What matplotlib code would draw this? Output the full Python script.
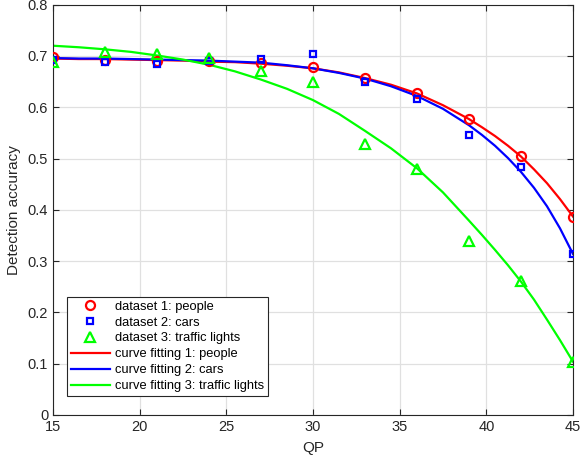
import matplotlib
matplotlib.use("Agg")
import matplotlib.pyplot as plt

plt.rcParams['font.family'] = ['Liberation Sans', 'DejaVu Sans']

# measured points
qp = [15, 18, 21, 24, 27, 30, 33, 36, 39, 42, 45]
people = [0.698, 0.692, 0.690, 0.690, 0.686, 0.678, 0.658, 0.627, 0.577, 0.505, 0.387]
cars = [0.693, 0.689, 0.684, 0.690, 0.695, 0.704, 0.649, 0.617, 0.545, 0.483, 0.314]
lights = [0.688, 0.707, 0.703, 0.697, 0.671, 0.649, 0.528, 0.479, 0.339, 0.262, 0.104]

# fitted curves
qp_fit = [15, 16.5, 18, 19.5, 21, 22.5, 24, 25.5, 27, 28.5, 30, 31.5, 33,
          34.5, 36, 37.5, 39, 39.75, 40.5, 41.25, 42, 42.75, 43.5, 44.25, 45]
people_fit = [0.695, 0.694, 0.694, 0.693, 0.692, 0.691, 0.689, 0.688, 0.685,
              0.681, 0.676, 0.668, 0.657, 0.644, 0.627, 0.604, 0.577, 0.561,
              0.544, 0.525, 0.504, 0.479, 0.452, 0.421, 0.387]
cars_fit = [0.696, 0.695, 0.695, 0.694, 0.693, 0.692, 0.691, 0.689, 0.687,
            0.682, 0.676, 0.667, 0.656, 0.641, 0.622, 0.597, 0.565, 0.546,
            0.525, 0.501, 0.474, 0.443, 0.407, 0.364, 0.314]
lights_fit = [0.720, 0.717, 0.713, 0.708, 0.701, 0.693, 0.683, 0.670, 0.654,
              0.636, 0.614, 0.587, 0.554, 0.520, 0.481, 0.434, 0.379, 0.351,
              0.322, 0.292, 0.260, 0.225, 0.186, 0.146, 0.104]

xticks = [15, 20, 25, 30, 35, 40, 45]
yticks = [0, 0.1, 0.2, 0.3, 0.4, 0.5, 0.6, 0.7, 0.8]

fig = plt.figure(figsize=(5.81, 4.61), dpi=100)
ax = fig.add_axes([0.0912, 0.0998, 0.895, 0.890])

ax.plot(qp, people, 'o', color='#ff0000', mfc='none', mew=1.6, ms=6.5,
        label='dataset 1: people', zorder=3)
ax.plot(qp, cars, 's', color='#0000ff', mfc='none', mew=1.6, ms=4.5,
        label='dataset 2: cars', zorder=3)
ax.plot(qp, lights, '^', color='#00ff00', mfc='none', mew=1.6, ms=7,
        label='dataset 3: traffic lights', zorder=3)
ax.plot(qp_fit, people_fit, '-', color='#ff0000', lw=1.6,
        label='curve fitting 1: people', zorder=2)
ax.plot(qp_fit, cars_fit, '-', color='#0000ff', lw=1.6,
        label='curve fitting 2: cars', zorder=2)
ax.plot(qp_fit, lights_fit, '-', color='#00ff00', lw=1.6,
        label='curve fitting 3: traffic lights', zorder=2)

ax.set_xlim(15, 45)
ax.set_ylim(0, 0.8)
ax.set_xticks(xticks)
ax.set_yticks(yticks)
ax.set_yticklabels([f"{v:g}" for v in yticks])
ax.grid(True, color='#e0e0e0', lw=0.9)
ax.set_axisbelow(True)
ax.tick_params(direction='in', top=True, right=True, length=4,
               color='#262626', labelcolor='#262626', labelsize=10.5)
for sp in ax.spines.values():
    sp.set_color('#262626')
    sp.set_linewidth(0.8)
ax.set_xlabel('QP', fontsize=11, color='#262626', labelpad=5)
ax.set_ylabel('Detection accuracy', fontsize=11, color='#262626', labelpad=5)

leg = ax.legend(loc='lower left', bbox_to_anchor=(0.027, 0.046), fontsize=9.3,
                fancybox=False, edgecolor='#262626', framealpha=1,
                labelspacing=0.3, handlelength=3.0, handletextpad=0.45,
                borderpad=0.3, borderaxespad=0)
leg.get_frame().set_linewidth(0.8)

fig.savefig('out.png', dpi=100)
